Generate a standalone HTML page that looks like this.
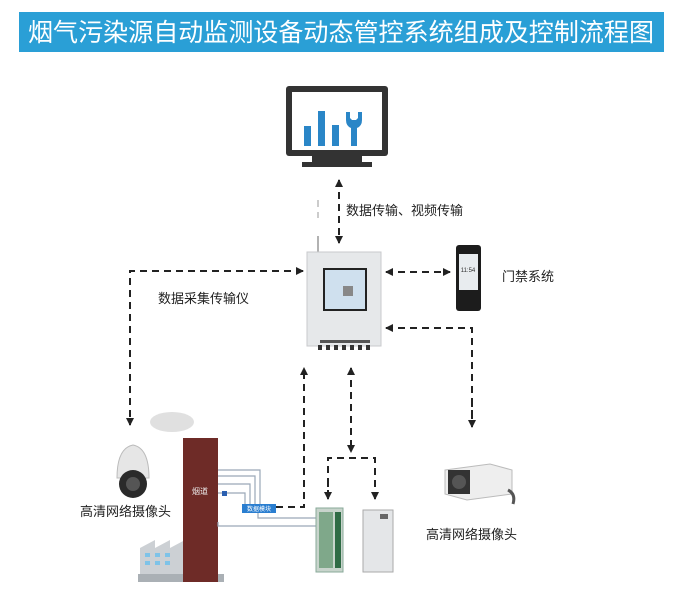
<!DOCTYPE html>
<html><head><meta charset="utf-8">
<style>
html,body{margin:0;padding:0;background:#fff;}
body{width:681px;height:585px;overflow:hidden;}
text{font-family:"Liberation Sans","Noto Sans CJK SC",sans-serif;}
</style></head><body>
<svg width="681" height="585" viewBox="0 0 681 585" xmlns="http://www.w3.org/2000/svg">
<defs>
<marker id="a" markerWidth="8" markerHeight="8" refX="7" refY="4" orient="auto" markerUnits="userSpaceOnUse">
<path d="M0,0 L8,4 L0,8 Z" fill="#222"/></marker>
<marker id="s" markerWidth="8" markerHeight="8" refX="1" refY="4" orient="auto" markerUnits="userSpaceOnUse">
<path d="M8,0 L0,4 L8,8 Z" fill="#222"/></marker>
</defs>
<rect width="681" height="585" fill="#fff"/>
<!-- title -->
<rect x="19" y="12" width="645" height="40" fill="#2a9fd6"/>
<text x="28" y="41" font-size="25" fill="#fff" textLength="626" lengthAdjust="spacingAndGlyphs">烟气污染源自动监测设备动态管控系统组成及控制流程图</text>

<!-- monitor -->
<rect x="286" y="86" width="102" height="70" rx="3" fill="#333"/>
<rect x="292" y="92" width="90" height="58" fill="#fff"/>
<rect x="304" y="126" width="7" height="20" fill="#2a86c7"/>
<rect x="318" y="111" width="7" height="35" fill="#2a86c7"/>
<rect x="332" y="125" width="7" height="21" fill="#2a86c7"/>
<path d="M346,112 l0,8 q0,6 5,8 l0,18 l6,0 l0,-18 q5,-2 5,-8 l0,-8 l-4,0 l0,6 l-2,2 l-4,0 l-2,-2 l0,-6 z" fill="#2a86c7"/>
<rect x="312" y="156" width="50" height="6" fill="#333"/>
<rect x="302" y="162" width="70" height="5" fill="#333"/>

<g stroke="#222" stroke-width="2" fill="none" stroke-dasharray="7,5">
<line x1="339" y1="180" x2="339" y2="243" marker-start="url(#s)" marker-end="url(#a)"/>
<line x1="318" y1="200" x2="318" y2="218" stroke="#bbb" stroke-width="1.5"/>
<polyline points="303,271 130,271 130,425" marker-start="url(#s)" marker-end="url(#a)"/>
<line x1="386" y1="272" x2="450" y2="272" marker-start="url(#s)" marker-end="url(#a)"/>
<polyline points="386,328 472,328 472,425" marker-start="url(#s)"/>
<line x1="472" y1="400" x2="472" y2="427" marker-end="url(#a)"/>
<polyline points="276,507 304,507 304,368" marker-end="url(#a)"/>
<line x1="351" y1="368" x2="351" y2="452" marker-start="url(#s)" marker-end="url(#a)"/>
<polyline points="328,497 328,458 375,458 375,497"/>
<line x1="328" y1="480" x2="328" y2="499" marker-end="url(#a)"/>
<line x1="375" y1="480" x2="375" y2="499" marker-end="url(#a)"/>
</g>

<text x="346" y="215" font-size="13" fill="#222">数据传输、视频传输</text>
<text x="158" y="303" font-size="13" fill="#222">数据采集传输仪</text>
<text x="502" y="281" font-size="13" fill="#222">门禁系统</text>
<text x="80" y="516" font-size="13" fill="#222">高清网络摄像头</text>
<text x="426" y="539" font-size="13" fill="#222">高清网络摄像头</text>

<!-- data device -->
<line x1="318" y1="236" x2="318" y2="252" stroke="#999" stroke-width="1.5"/>
<rect x="307" y="252" width="74" height="94" fill="#e6e8ea" stroke="#c8cacc"/>
<rect x="323" y="268" width="44" height="43" fill="#222"/>
<rect x="325" y="270" width="40" height="39" fill="#cfe0ee"/>
<rect x="343" y="286" width="10" height="10" fill="#888"/>
<rect x="320" y="340" width="50" height="3" fill="#555"/>
<g fill="#333"><rect x="318" y="345" width="4" height="5"/><rect x="326" y="345" width="4" height="5"/><rect x="334" y="345" width="4" height="5"/><rect x="342" y="345" width="4" height="5"/><rect x="350" y="345" width="4" height="5"/><rect x="358" y="345" width="4" height="5"/><rect x="366" y="345" width="4" height="5"/></g>

<!-- door access -->
<rect x="456" y="245" width="25" height="66" rx="3" fill="#1c1c1c"/>
<rect x="459" y="254" width="19" height="36" fill="#e8ecef"/>
<text x="468" y="272" font-size="6" fill="#333" text-anchor="middle">11:54</text>

<!-- right camera -->
<path d="M445,470 l45,-6 l22,6 l0,24 l-45,6 l-22,-6 z" fill="#eee" stroke="#bbb"/>
<rect x="448" y="470" width="22" height="24" fill="#333"/>
<circle cx="459" cy="482" r="7" fill="#555"/>
<path d="M508,490 q8,4 5,14" stroke="#555" stroke-width="3" fill="none"/>

<!-- dome camera -->
<path d="M117,478 q0,-30 16,-33 q16,3 16,33 z" fill="#e6e6e6" stroke="#bbb"/>
<circle cx="133" cy="484" r="14" fill="#2a2a2a"/>
<circle cx="133" cy="484" r="7" fill="#555"/>

<!-- factory -->
<ellipse cx="172" cy="422" rx="22" ry="10" fill="#e0e0e0"/>
<path d="M140,548 l15,-8 l0,8 l15,-8 l0,8 l15,-8 l0,40 l-45,0 z" fill="#ccd0d4"/>
<g fill="#7ec3e8"><rect x="145" y="553" width="5" height="4"/><rect x="155" y="553" width="5" height="4"/><rect x="165" y="553" width="5" height="4"/><rect x="145" y="561" width="5" height="4"/><rect x="155" y="561" width="5" height="4"/><rect x="165" y="561" width="5" height="4"/></g>
<rect x="138" y="574" width="86" height="8" fill="#aab0b5"/>
<rect x="183" y="438" width="35" height="144" fill="#6e2b27"/>
<text x="200" y="494" font-size="8" fill="#eee" text-anchor="middle">烟道</text>

<g stroke="#9aa8b8" stroke-width="1.2" fill="none">
<polyline points="218,470 260,470 260,505"/>
<polyline points="218,476 255,476 255,505"/>
<polyline points="218,484 250,484 250,505"/>
<polyline points="218,493 245,493 245,505"/>
<polyline points="218,522 218,526 320,526"/>
<polyline points="258,512 258,518 320,518"/>
</g>
<rect x="222" y="491" width="5" height="5" fill="#2a5fb0"/>
<rect x="242" y="504" width="34" height="9" fill="#2a7ed0"/>
<text x="259" y="511" font-size="6" fill="#fff" text-anchor="middle">数据模块</text>

<!-- cabinets -->
<rect x="316" y="508" width="27" height="64" fill="#c8d4cc" stroke="#8a9"/>
<rect x="319" y="512" width="14" height="56" fill="#7fa88a"/>
<rect x="335" y="512" width="6" height="56" fill="#2f6b45"/>
<rect x="363" y="510" width="30" height="62" fill="#e4e6e8" stroke="#aaa"/>
<rect x="380" y="514" width="8" height="5" fill="#666"/>
</svg>
</body></html>
